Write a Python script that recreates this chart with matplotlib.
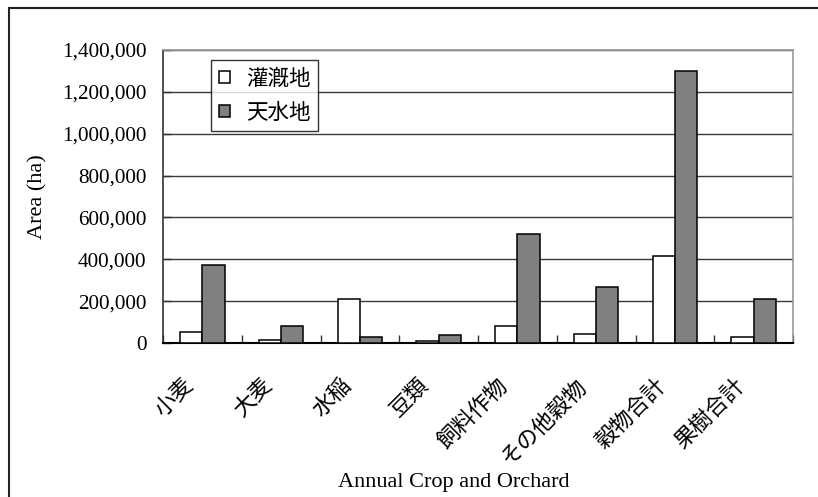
import matplotlib
matplotlib.use("Agg")
import matplotlib.pyplot as plt
import numpy as np
from matplotlib.lines import Line2D
from matplotlib.ticker import FuncFormatter

# Cultivated area by crop, irrigated vs rain-fed (ha)
categories = ["小麦", "大麦", "水稲", "豆類", "飼料作物", "その他穀物", "穀物合計", "果樹合計"]
irrigated = [51000, 14000, 210000, 9000, 80000, 43000, 417000, 29000]
rainfed = [373000, 80000, 29000, 37000, 519000, 269000, 1301000, 210000]
series_names = ["灌漑地", "天水地"]
y_ticks = [0, 200000, 400000, 600000, 800000, 1000000, 1200000, 1400000]

serif = ["Liberation Serif", "DejaVu Serif"]
cjk = ["Noto Sans CJK JP", "DejaVu Sans"]

W, H = 818, 497
fig = plt.figure(figsize=(W / 100, H / 100), dpi=100)
ax = fig.add_axes([163 / W, 1 - 343 / H, 630 / W, 293 / H])

x = np.arange(len(categories))
bw = 0.283
ax.bar(x - bw / 2, irrigated, bw, color="white", edgecolor="black",
       linewidth=1.1, label=series_names[0], zorder=3)
ax.bar(x + bw / 2, rainfed, bw, color="#808080", edgecolor="black",
       linewidth=1.1, label=series_names[1], zorder=3)

ax.set_xlim(-0.5, len(categories) - 0.5)
ax.set_ylim(0, 1400000)
ax.set_yticks(y_ticks)
ax.yaxis.set_major_formatter(FuncFormatter(lambda v, p: f"{int(v):,}"))
ax.grid(axis="y", color="#3a3a3a", linewidth=1.0, zorder=1)
ax.set_axisbelow(True)

# Rotated category labels sit slightly left of each group's centre
ax.set_xticks(x - 0.16)
ax.set_xticklabels(categories, rotation=45, ha="right", va="center",
                   rotation_mode="anchor", family=cjk, fontsize=16)
ax.tick_params(axis="x", which="major", length=0, pad=28)
ax.set_xticks(np.arange(-0.5, len(categories) + 0.5, 1.0), minor=True)
ax.tick_params(axis="x", which="minor", direction="in", length=6,
               width=1.0, color="#333333", top=False)
ax.tick_params(axis="y", direction="in", length=6, width=1.0,
               color="#333333", pad=12)
for lab in ax.get_yticklabels():
    lab.set_family(serif)
    lab.set_fontsize(15.3)

for side in ("top", "right"):
    ax.spines[side].set_color("#999999")
    ax.spines[side].set_linewidth(1.2)
ax.spines["left"].set_color("#333333")
ax.spines["left"].set_linewidth(1.2)
ax.spines["bottom"].set_color("black")
ax.spines["bottom"].set_linewidth(1.5)

ax.set_ylabel("Area (ha)", family=serif, fontsize=16)
ax.yaxis.set_label_coords((47 - 163) / 630, 0.5)
ax.set_xlabel("Annual Crop and Orchard", family=serif, fontsize=16, va="top")
ax.xaxis.set_label_coords((454 - 163) / 630, (343 - 473) / 293)

leg = ax.legend(loc="upper left", bbox_to_anchor=((211 - 163) / 630, (343 - 60) / 293),
                prop={"family": cjk, "size": 15.5}, frameon=True, fancybox=False,
                edgecolor="black", handlelength=0.5, handleheight=0.5,
                handletextpad=0.75, borderpad=0.36, labelspacing=0.55,
                borderaxespad=0)
leg.get_frame().set_linewidth(1.0)

# Chart frame (left and top edges)
fig.add_artist(Line2D([9 / W, 9 / W], [0, 1 - 8 / H], transform=fig.transFigure,
                      color="#222222", linewidth=1.5))
fig.add_artist(Line2D([9 / W, 1], [1 - 8 / H, 1 - 8 / H], transform=fig.transFigure,
                      color="#222222", linewidth=1.5))

fig.savefig("out.png", dpi=100)
